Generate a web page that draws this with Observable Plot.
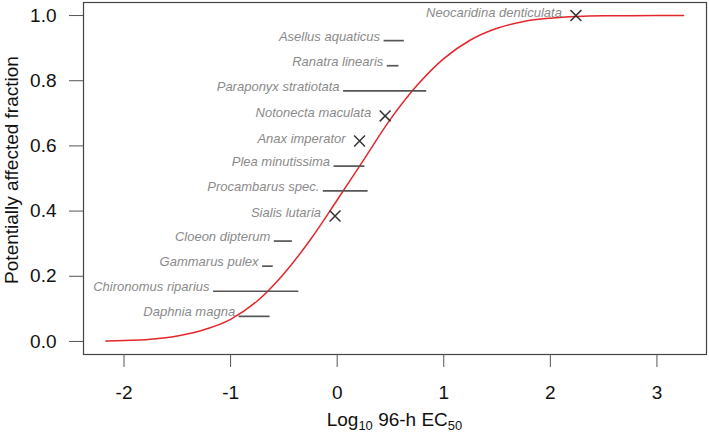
<!DOCTYPE html>
<html><head><meta charset="utf-8">
<script src="https://cdn.jsdelivr.net/npm/d3@7"></script>
<script src="https://cdn.jsdelivr.net/npm/@observablehq/plot@0.6"></script>
<style>body{margin:0;background:#fff;} svg{display:block}</style>
</head><body><div id="chart"></div>
<script>
// Species sensitivity data (log10 96-h EC50 ranges)
const species = ["Daphnia magna","Chironomus riparius","Gammarus pulex","Cloeon dipterum","Sialis lutaria","Procambarus spec.","Plea minutissima","Anax imperator","Notonecta maculata","Paraponyx stratiotata","Ranatra linearis","Asellus aquaticus","Neocaridina denticulata"];
const fraction = [0.077,0.154,0.231,0.308,0.385,0.462,0.538,0.615,0.692,0.769,0.846,0.923,1.0];
const ecLow  = [-0.92,-1.16,-0.70,-0.59,-0.02,-0.13,-0.03,0.21,0.45,0.06,0.47,0.44,2.24];
const ecHigh = [-0.63,-0.36,-0.60,-0.42,-0.02,0.29,0.26,0.21,0.45,0.84,0.58,0.63,2.24];
// Fitted SSD curve
const curveX = [-2.17,-2.0,-1.75,-1.5,-1.25,-1.0,-0.75,-0.5,-0.25,0,0.25,0.5,0.75,1.0,1.25,1.5,1.75,2.0,2.25,2.5,2.75,3.0,3.25];
const curveY = [0.0013,0.0026,0.007,0.017,0.036,0.068,0.124,0.208,0.313,0.434,0.558,0.682,0.786,0.868,0.925,0.961,0.982,0.992,0.997,0.999,0.9995,1.0,1.0];
const xTicks = [-2,-1,0,1,2,3];
const yTicks = [0,0.2,0.4,0.6,0.8,1.0];

const rows = species.map((s,i)=>({species:s, frac:fraction[i], lo:ecLow[i], hi:ecHigh[i], point: ecLow[i]===ecHigh[i]}));
const ranges = rows.filter(d=>!d.point);
const points = rows.filter(d=>d.point);
const curve = curveX.map((x,i)=>({x, y:curveY[i]}));
const font = "'Liberation Sans', Arial, Helvetica, sans-serif";

const plot = Plot.plot({
  width:709, height:434,
  marginLeft:83, marginRight:3, marginTop:2, marginBottom:80,
  style:{fontFamily:font, background:"#fff", overflow:"visible"},
  x:{domain:[-2.38,3.465]},
  y:{domain:[-0.04,1.04]},
  marks:[
    Plot.frame({stroke:"#444", strokeWidth:1.2}),
    Plot.axisX({ticks:xTicks, tickSize:13, tickPadding:18, fontSize:19, stroke:"#555", fill:"#111", tickFormat:d=>String(d), label:null}),
    Plot.axisY({ticks:yTicks, tickSize:14, tickPadding:13, fontSize:19, stroke:"#555", fill:"#111", tickFormat:d=>d.toFixed(1), label:null}),
    Plot.line(curve, {x:"x", y:"y", stroke:"#e3262b", strokeWidth:1.5, curve:"monotone-x"}),
    Plot.ruleY(ranges, {y:"frac", x1:"lo", x2:"hi", stroke:"#555", strokeWidth:1.7}),
    Plot.dot(points, {x:"lo", y:"frac", symbol:"times", r:5, stroke:"#333", strokeWidth:1.5}),
    Plot.text(ranges, {x:"lo", y:"frac", text:"species", textAnchor:"end", lineAnchor:"bottom", dx:-4, dy:0, fontSize:13, fontStyle:"italic", fill:"#8a8a8a"}),
    Plot.text(points, {x:"lo", y:"frac", text:"species", textAnchor:"end", lineAnchor:"bottom", dx:-14, dy:1.5, fontSize:13, fontStyle:"italic", fill:"#8a8a8a"})
  ]
});
document.getElementById("chart").appendChild(plot);

const svg = d3.select(plot);
const xr = plot.scale("x").range, yr = plot.scale("y").range;
svg.append("text")
  .attr("transform", `translate(17.6,${(yr[0]+yr[1])/2 - 8}) rotate(-90)`)
  .attr("text-anchor","middle").attr("font-size",19).attr("fill","#111")
  .attr("font-family",font)
  .text("Potentially affected fraction");
const xt = svg.append("text")
  .attr("x",(xr[0]+xr[1])/2).attr("y",426)
  .attr("text-anchor","middle").attr("font-size",19).attr("fill","#111")
  .attr("font-family",font);
xt.append("tspan").text("Log");
xt.append("tspan").attr("font-size",13).attr("dy",3.5).text("10");
xt.append("tspan").attr("dy",-3.5).text(" 96-h EC");
xt.append("tspan").attr("font-size",13).attr("dy",3.5).text("50");
</script>
</body></html>
